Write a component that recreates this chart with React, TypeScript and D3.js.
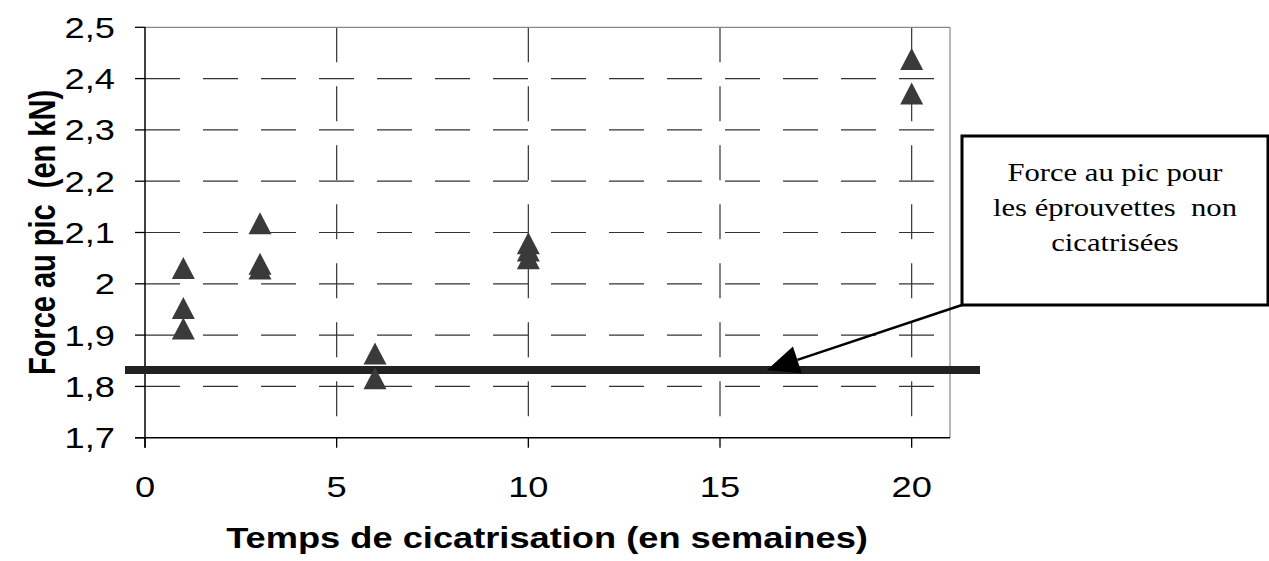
import React from "react";
import * as d3 from "d3";

const weeks = [1, 1, 1, 3, 3, 3, 6, 6, 10, 10, 10, 20, 20];
const peakForce = [2.031, 1.953, 1.913, 2.118, 2.039, 2.03, 1.864, 1.816, 2.079, 2.065, 2.05, 2.438, 2.371];
const referenceForce = 1.832;
const xTicks = [0, 5, 10, 15, 20];
const yTicks = [1.7, 1.8, 1.9, 2.0, 2.1, 2.2, 2.3, 2.4, 2.5];
const xTitle = "Temps de cicatrisation (en semaines)";
const yTitle = "Force au pic\u00a0\u00a0(en kN)";
const noteLines = ["Force au pic pour", "les éprouvettes\u00a0 non", "cicatrisées"];

const W = 1269;
const H = 561;
const L = 145, R = 950, T = 27.3, B = 437.7;
const SX = 1.25;
const SANS = "'Liberation Sans', Arial, sans-serif";
const SERIF = "'Liberation Serif', 'Times New Roman', serif";

function SText({ x, y, anchor = "start", size, weight = "normal", family = SANS, rotate = 0, children }: any) {
  return (
    <text
      transform={`translate(${x},${y}) scale(${SX},1)${rotate ? ` rotate(${rotate})` : ""}`}
      textAnchor={anchor}
      fontSize={size}
      fontWeight={weight}
      fontFamily={family}
      fill="#000"
    >
      {children}
    </text>
  );
}

export default function App() {
  const x = d3.scaleLinear().domain([0, 21]).range([L, R]);
  const y = d3.scaleLinear().domain([1.7, 2.5]).range([B, T]);

  const triW = 23, triH = 22;
  const tri = (cx: number, cy: number) =>
    `M${cx},${cy - triH / 2}L${cx + triW / 2},${cy + triH / 2}L${cx - triW / 2},${cy + triH / 2}Z`;

  // annotation
  const boxL = 962, boxT = 136, boxR = 1268, boxB = 305;
  const tipX = 767, tipY = y(referenceForce);
  const ang = Math.atan2(boxB - tipY, boxL - tipX);
  const aLen = 32, aW = 14;
  const bx = tipX + Math.cos(ang) * aLen, by = tipY + Math.sin(ang) * aLen;
  const px = -Math.sin(ang), py = Math.cos(ang);
  const head = `M${tipX},${tipY}L${bx + px * aW},${by + py * aW}L${bx - px * aW},${by - py * aW}Z`;

  return (
    <svg width={W} height={H} style={{ position: "absolute", left: 0, top: 0, background: "#fff" }}>
      <rect x={0} y={0} width={W} height={H} fill="#fff" />
      {/* horizontal dashed gridlines */}
      {yTicks.filter((v) => v > 1.7 && v < 2.5).map((v) => (
        <line key={"hg" + v} x1={L} x2={R} y1={y(v)} y2={y(v)} stroke="#333" strokeWidth={1.2} strokeDasharray="35,23" />
      ))}
      {/* vertical dashed gridlines */}
      {xTicks.filter((v) => v > 0).map((v) => (
        <line key={"vg" + v} x1={x(v)} x2={x(v)} y1={T} y2={B} stroke="#333" strokeWidth={1.2} strokeDasharray="35,24" />
      ))}
      {/* plot border */}
      <line x1={L} x2={R} y1={T} y2={T} stroke="#888" strokeWidth={1.2} />
      <line x1={R} x2={R} y1={T} y2={B} stroke="#888" strokeWidth={1.2} />
      <line x1={L} x2={L} y1={T} y2={B + 10} stroke="#000" strokeWidth={1.5} />
      <line x1={L - 10} x2={R} y1={B} y2={B} stroke="#000" strokeWidth={1.5} />
      {/* ticks */}
      {yTicks.map((v) => (
        <line key={"yt" + v} x1={L - 10} x2={L} y1={y(v)} y2={y(v)} stroke="#000" strokeWidth={1.3} />
      ))}
      {xTicks.map((v) => (
        <line key={"xt" + v} x1={x(v)} x2={x(v)} y1={B} y2={B + 10} stroke="#000" strokeWidth={1.3} />
      ))}
      {/* tick labels */}
      {yTicks.map((v) => (
        <SText key={"yl" + v} x={115} y={y(v) + 10.5} anchor="end" size={29}>
          {String(+v.toFixed(1)).replace(".", ",")}
        </SText>
      ))}
      {xTicks.map((v) => (
        <SText key={"xl" + v} x={x(v)} y={497} anchor="middle" size={29}>
          {v}
        </SText>
      ))}
      {/* axis titles */}
      <SText x={547} y={548} anchor="middle" size={29} weight="bold">
        {xTitle}
      </SText>
      <SText x={55} y={(T + B) / 2} anchor="middle" size={29} weight="bold" rotate={-90}>
        {yTitle}
      </SText>
      {/* reference line */}
      <line x1={125} x2={980} y1={y(referenceForce)} y2={y(referenceForce)} stroke="#222" strokeWidth={8} />
      {/* points */}
      {weeks.map((w, i) => (
        <path key={"p" + i} d={tri(x(w), y(peakForce[i]))} fill="#3a3a3a" />
      ))}
      {/* annotation */}
      <line x1={boxL} y1={boxB} x2={bx} y2={by} stroke="#000" strokeWidth={2.5} />
      <path d={head} fill="#000" />
      <rect x={boxL} y={boxT} width={boxR - boxL} height={boxB - boxT} fill="#fff" stroke="#000" strokeWidth={3} />
      {noteLines.map((t, i) => (
        <SText key={"n" + i} x={(boxL + boxR) / 2} y={181 + i * 35} anchor="middle" size={24.5} family={SERIF}>
          {t}
        </SText>
      ))}
    </svg>
  );
}
